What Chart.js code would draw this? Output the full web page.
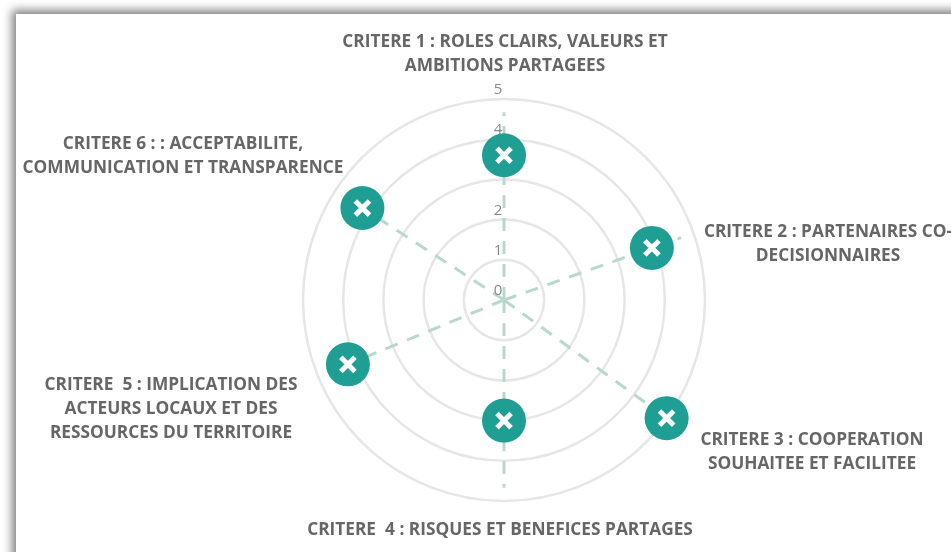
<!DOCTYPE html>
<html>
<head>
<meta charset="utf-8">
<title>Criteres</title>
<script src="https://cdn.jsdelivr.net/npm/chart.js@4"></script>
<style>
    html, body { margin: 0; width: 951px; height: 552px; overflow: hidden; background: #fff; }
    #card { position: absolute; left: 16px; top: 14px; width: 1100px; height: 700px; background: #fff; box-shadow: 0 0 9px 4px #808080; }
    #radar { position: absolute; left: 0; top: 0; filter: blur(0.6px); }
</style>
</head>
<body>
<div id="card"></div>
<canvas id="radar" width="951" height="552"></canvas>
<script>
const categories = [
    ['CRITERE 1 : ROLES CLAIRS, VALEURS ET', 'AMBITIONS PARTAGEES'],
    ['CRITERE 2 : PARTENAIRES CO-', 'DECISIONNAIRES'],
    ['CRITERE 3 : COOPERATION', 'SOUHAITEE ET FACILITEE'],
    ['CRITERE  4 : RISQUES ET BENEFICES PARTAGES'],
    ['CRITERE  5 : IMPLICATION DES', 'ACTEURS LOCAUX ET DES', 'RESSOURCES DU TERRITOIRE'],
    ['CRITERE 6 : : ACCEPTABILITE,', 'COMMUNICATION ET TRANSPARENCE']
];
const scores = [3.6, 3.9, 5, 3, 4.2, 4.2];
const tickLabels = [0, 1, 2, 3, 4, 5];

// the axes in the picture are not evenly spread, degrees clockwise from the top
const axisAngles = [0, 70.6, 126, 180, 247.6, 303];
// how far the dashed spokes reach on the value scale
const spokeReach = 4.67;
// centre of each text block, first line baseline-middle
const labelSpots = [[505, 42], [828, 232], [812, 440], [500, 530], [171, 385], [183, 144]];

Chart.RadialLinearScale.prototype.getIndexAngle = function (i) {
    return axisAngles[i] * Math.PI / 180;
};

const decorations = {
    id: 'decorations',
    beforeDatasetsDraw(chart) {
        const scale = chart.scales.r;
        const ctx = chart.ctx;
        ctx.save();

        ctx.strokeStyle = '#b9d8cc';
        ctx.lineWidth = 3;
        ctx.setLineDash([13, 10]);
        axisAngles.forEach((angle, i) => {
            const tip = scale.getPointPositionForValue(i, spokeReach);
            ctx.beginPath();
            ctx.moveTo(scale.xCenter, scale.yCenter);
            ctx.lineTo(tip.x, tip.y);
            ctx.stroke();
        });
        ctx.setLineDash([]);

        ctx.font = '15px "Open Sans"';
        ctx.fillStyle = '#8a8a8a';
        ctx.textAlign = 'center';
        ctx.textBaseline = 'middle';
        tickLabels.forEach((tick) => {
            const p = scale.getPointPositionForValue(0, tick);
            ctx.fillText(tick, p.x - 6, p.y - 9);
        });

        ctx.font = 'bold 17.3px "Open Sans"';
        ctx.fillStyle = '#666666';
        categories.forEach((lines, i) => {
            lines.forEach((line, n) => {
                ctx.fillText(line, labelSpots[i][0], labelSpots[i][1] + n * 24);
            });
        });
        ctx.restore();
    }
};

new Chart(document.getElementById('radar').getContext('2d'), {
    type: 'radar',
    data: {
        labels: categories,
        datasets: [{
            // white cross on top of each disc
            data: scores,
            showLine: false,
            fill: false,
            borderWidth: 0,
            backgroundColor: 'transparent',
            borderColor: 'transparent',
            clip: false,
            pointStyle: 'crossRot',
            pointRadius: 10,
            pointBorderWidth: 5,
            pointBorderColor: '#ffffff',
            pointBackgroundColor: '#ffffff'
        }, {
            data: scores,
            showLine: false,
            fill: false,
            borderWidth: 0,
            backgroundColor: 'transparent',
            borderColor: 'transparent',
            clip: false,
            pointStyle: 'circle',
            pointRadius: 22,
            pointBorderWidth: 0,
            pointBackgroundColor: '#1f9e94'
        }]
    },
    options: {
        responsive: false,
        animation: false,
        layout: { padding: { left: 303, right: 245, top: 98, bottom: 50 } },
        plugins: { legend: { display: false }, tooltip: { enabled: false } },
        scales: {
            r: {
                min: 0,
                max: 5,
                ticks: { display: false, stepSize: 1 },
                pointLabels: { display: false },
                angleLines: { display: false },
                grid: { circular: true, color: '#e6e6e6', lineWidth: 2.5 }
            }
        }
    },
    plugins: [decorations]
});
</script>
</body>
</html>
